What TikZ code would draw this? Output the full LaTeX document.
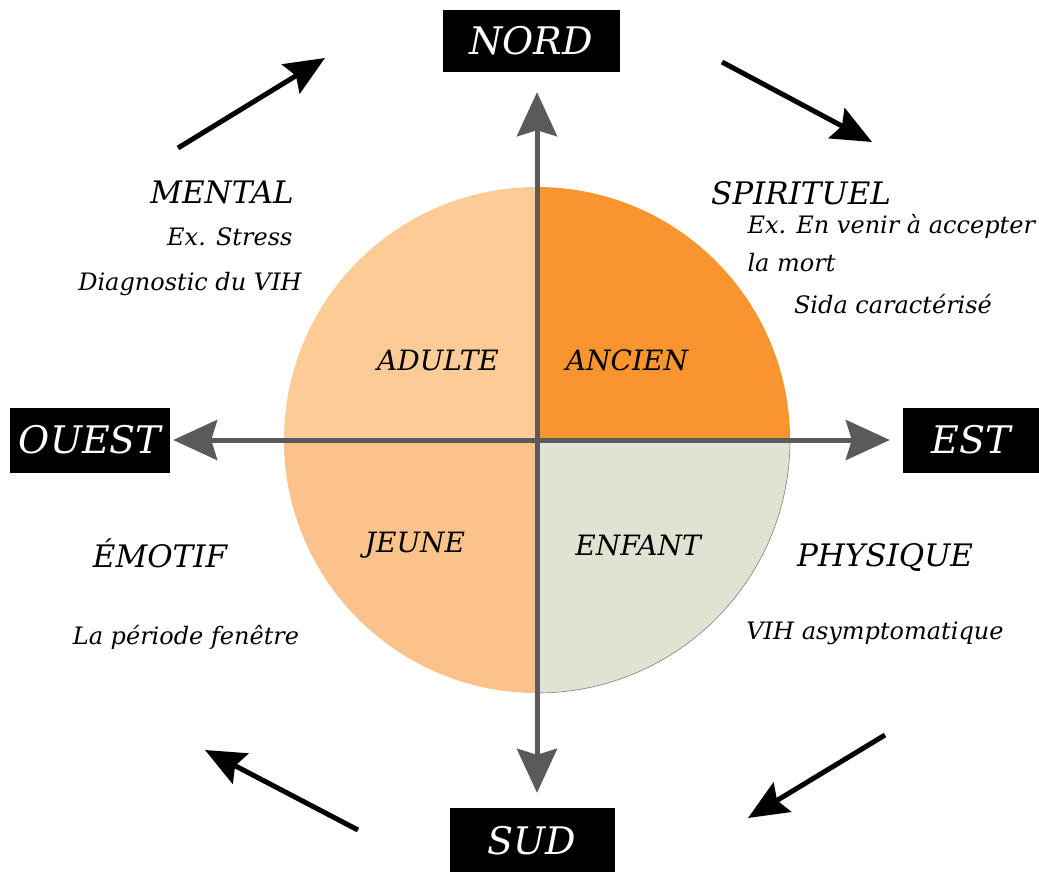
\documentclass[tikz,border=0pt]{standalone}
\usepackage{fontspec}
\setmainfont{DejaVu Serif}
\usetikzlibrary{arrows.meta}

\definecolor{adulte}{HTML}{FCCB96}
\definecolor{jeune}{HTML}{FBC28C}
\definecolor{ancien}{HTML}{F8952F}
\definecolor{enfant}{HTML}{E2E2D2}
\definecolor{axe}{HTML}{5A5A5A}

\begin{document}
\begin{tikzpicture}[
    x=1pt, y=-1pt,
    cardinal/.style={rectangle, fill=black, text=white, inner sep=0pt, font=\fontsize{38}{38}\selectfont\itshape},
    titre/.style={font=\fontsize{31}{31}\selectfont\itshape},
    detail/.style={font=\fontsize{24}{24}\selectfont\itshape},
    age/.style={font=\fontsize{28}{28}\selectfont\itshape},
    axis/.style={axe, line width=5pt, {Stealth[length=44pt, width=40pt, inset=6pt]}-{Stealth[length=44pt, width=40pt, inset=6pt]}},
    cycle/.style={black, line width=5pt, -{Stealth[length=40pt, width=34pt, inset=6pt]}}
]
\useasboundingbox (0,0) rectangle (1039,871);

% Quadrants of the wheel (y points down, so angles run clockwise)
\coordinate (centre) at (537,440);
\fill[adulte] (centre) -- (284,440) arc[start angle=180, end angle=270, radius=253] -- cycle;
\fill[ancien] (centre) -- (537,187) arc[start angle=270, end angle=360, radius=253] -- cycle;
\fill[enfant] (centre) -- (790,440) arc[start angle=0, end angle=90, radius=253] -- cycle;
\fill[jeune] (centre) -- (537,693) arc[start angle=90, end angle=180, radius=253] -- cycle;
\draw[gray, line width=0.6pt] (790,440) arc[start angle=0, end angle=90, radius=253];

% Cardinal points
\node[cardinal, minimum width=177pt, minimum height=62pt] (nord) at (531,41) {NORD};
\node[cardinal, minimum width=165pt, minimum height=66pt] (sud) at (532,841) {SUD};
\node[cardinal, minimum width=160pt, minimum height=65pt] (ouest) at (90,440) {OUEST};
\node[cardinal, minimum width=136pt, minimum height=65pt] (est) at (971,440) {EST};

% Axes
\draw[axis, shorten <=20pt, shorten >=15pt] (nord.south -| centre) -- (sud.north -| centre);
\draw[axis, shorten <=3pt, shorten >=13pt] (ouest) -- (est);

% Ages
\node[age] (adulte) at (438,360) {ADULTE};
\node[age] (ancien) at (627,360) {ANCIEN};
\node[age] (jeune) at (415,545) {JEUNE};
\node[age] (enfant) at (638,545) {ENFANT};

% Mental
\node[titre] (mental) at (222,192) {MENTAL};
\node[detail, anchor=east] (stress) at (296,237) {Ex. Stress};
\node[detail] (diagnostic) at (190,284) {Diagnostic du VIH};

% Spirituel
\node[titre] (spirituel) at (801,193) {SPIRITUEL};
\node[detail, anchor=west] (venir) at (744,226) {Ex. En venir à accepter};
\node[detail, anchor=west] (mort) at (744,263) {la mort};
\node[detail] (sida) at (893,304) {Sida caractérisé};

% Emotif
\node[titre] (emotif) at (160,553) {ÉMOTIF};
\node[detail] (fenetre) at (186,637) {La période fenêtre};

% Physique
\node[titre] (physique) at (885,557) {PHYSIQUE};
\node[detail] (asympto) at (875,633) {VIH asymptomatique};

% Cycle arrows
\coordinate (c1a) at (178,148);
\coordinate (c1b) at (325,58);
\coordinate (c2a) at (722,62);
\coordinate (c2b) at (872,142);
\coordinate (c3a) at (885,735);
\coordinate (c3b) at (748,818);
\coordinate (c4a) at (358,830);
\coordinate (c4b) at (205,750);
\draw[cycle] (c1a) -- (c1b);
\draw[cycle] (c2a) -- (c2b);
\draw[cycle] (c3a) -- (c3b);
\draw[cycle] (c4a) -- (c4b);

\end{tikzpicture}
\end{document}
